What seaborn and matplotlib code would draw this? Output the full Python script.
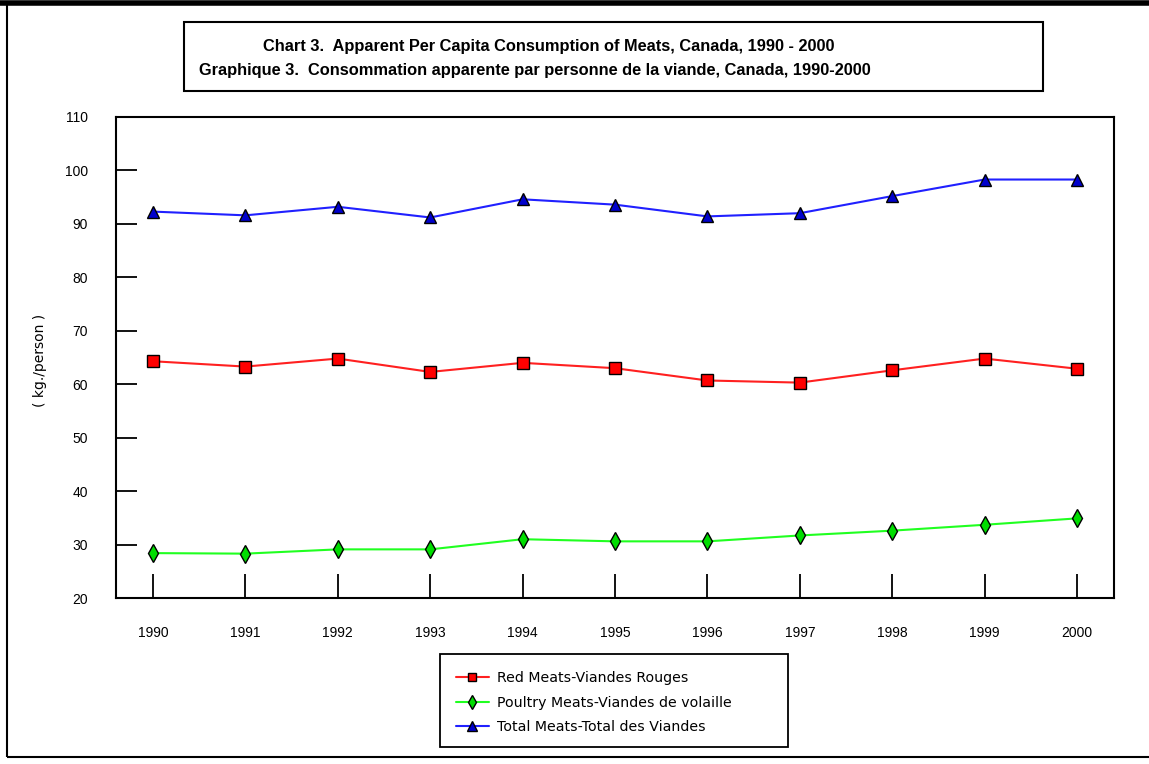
import matplotlib
matplotlib.use("Agg")
import matplotlib.pyplot as plt
import matplotlib.patches as mpatches
import seaborn as sns
import pandas as pd

years = [1990, 1991, 1992, 1993, 1994, 1995, 1996, 1997, 1998, 1999, 2000]
red_meats = [64.3, 63.3, 64.8, 62.3, 64.0, 63.0, 60.7, 60.3, 62.6, 64.8, 62.9]
poultry_meats = [28.4, 28.3, 29.1, 29.1, 31.0, 30.6, 30.6, 31.7, 32.6, 33.7, 34.9]
total_meats = [92.3, 91.6, 93.2, 91.2, 94.6, 93.6, 91.4, 92.0, 95.2, 98.3, 98.3]
series_names = ["Red Meats-Viandes Rouges", "Poultry Meats-Viandes de volaille",
                "Total Meats-Total des Viandes"]
y_ticks = [20, 30, 40, 50, 60, 70, 80, 90, 100, 110]
title_1 = "Chart 3.  Apparent Per Capita Consumption of Meats, Canada, 1990 - 2000"
title_2 = "Graphique 3.  Consommation apparente par personne de la viande, Canada, 1990-2000"
y_label = "( kg./person )"

df = pd.concat([
    pd.DataFrame({"year": years, "value": vals, "series": name})
    for name, vals in zip(series_names, [red_meats, poultry_meats, total_meats])
], ignore_index=True)

sns.set_style("white")
plt.rcParams.update({"text.color": "black", "xtick.color": "black", "ytick.color": "black",
                     "axes.labelcolor": "black"})
tickfont = ["Liberation Sans", "DejaVu Sans"]
W, H = 1149, 764
fig = plt.figure(figsize=(W / 100, H / 100), dpi=100)
fig.patch.set_facecolor("white")

def fx(px):
    return px / W

def fy(py):
    return 1 - py / H

ax = fig.add_axes([fx(116), fy(598), fx(1114) - fx(116), fy(117) - fy(598)])

line_colors = {series_names[0]: "#FF2020", series_names[1]: "#20FF20", series_names[2]: "#2020FF"}
markers = {series_names[0]: "s", series_names[1]: "d", series_names[2]: "^"}

for name, face, ms in zip(series_names, ["#FF0000", "#00DD00", "#0000CC"], [8, 9, 8.5]):
    sub = df[df["series"] == name]
    sns.lineplot(data=sub, x="year", y="value", ax=ax, color=line_colors[name],
                 marker=markers[name], markersize=ms, markerfacecolor=face,
                 markeredgecolor="black", markeredgewidth=1.0, linewidth=1.5,
                 label=name, legend=True)

ax.set_xlim(1989.6, 2000.4)
ax.set_ylim(20, 110)
ax.set_xticks(years)
ax.set_xticklabels([str(y) for y in years], fontfamily=tickfont, fontsize=10)
ax.set_yticks(y_ticks)
ax.set_yticklabels([str(v) for v in y_ticks], fontfamily=tickfont, fontsize=10)
ax.tick_params(axis="x", direction="in", length=17, width=1.3, color="black", pad=20,
               bottom=True, top=False)
ax.tick_params(axis="y", direction="in", length=15, width=1.3, color="black", pad=20,
               left=True, right=False)
ax.set_xlabel("")
ax.set_ylabel("")
for sp in ax.spines.values():
    sp.set_visible(True)
    sp.set_color("black")
    sp.set_linewidth(1.5)

fig.text(fx(40), fy(360), y_label, rotation=90, ha="center", va="center",
         fontsize=10, fontfamily="DejaVu Sans")

handles, labels = ax.get_legend_handles_labels()
leg = ax.legend(handles, labels, loc="upper left",
                bbox_to_anchor=(fx(456), fy(671)), bbox_transform=fig.transFigure,
                frameon=False, prop={"family": "DejaVu Sans", "size": 10.2},
                handlelength=2.3, handletextpad=0.6, borderpad=0, labelspacing=0.75,
                borderaxespad=0, markerscale=0.8)
fig.patches.append(mpatches.Rectangle((fx(440), fy(747)), fx(788) - fx(440), fy(654) - fy(747),
                                      transform=fig.transFigure, fill=False,
                                      edgecolor="black", linewidth=1.3))

# title box
fig.patches.append(mpatches.Rectangle((fx(184), fy(91)), fx(1043) - fx(184), fy(22) - fy(91),
                                      transform=fig.transFigure, fill=False,
                                      edgecolor="black", linewidth=1.5))
fig.text(fx(263), fy(46), title_1, ha="left", va="center", fontsize=11.8,
         fontweight="bold", fontfamily=tickfont)
fig.text(fx(199), fy(71), title_2, ha="left", va="center", fontsize=11.8,
         fontweight="bold", fontfamily=tickfont)

# outer frame
fig.patches.append(mpatches.Rectangle((fx(7), fy(757)), fx(1160) - fx(7), fy(3) - fy(757),
                                      transform=fig.transFigure, fill=False,
                                      edgecolor="black", linewidth=1.5))
fig.lines.append(plt.Line2D([0, 1], [fy(2.5), fy(2.5)], transform=fig.transFigure,
                            color="black", linewidth=4))

fig.savefig("out.png", dpi=100)
